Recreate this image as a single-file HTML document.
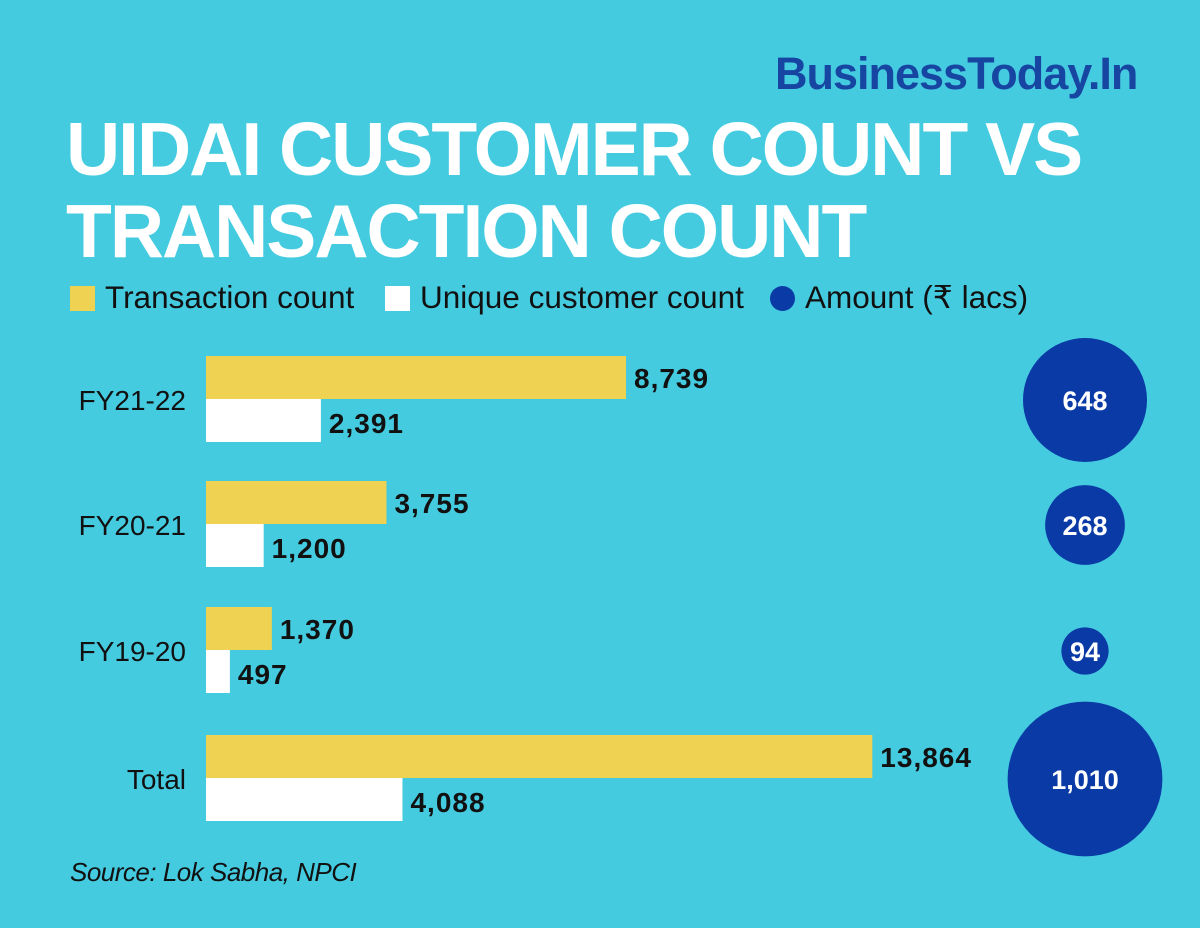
<!DOCTYPE html>
<html><head><meta charset="utf-8"><style>
body{margin:0;width:1200px;height:928px;background:#45CBE0;font-family:"Liberation Sans",sans-serif;overflow:hidden;position:relative}
.t{position:absolute;white-space:nowrap}
</style></head><body>
<div class="t" style="left:775px;top:48px;font-size:45px;font-weight:bold;color:#1746A2;letter-spacing:-1px">BusinessToday.In</div>
<div class="t" style="left:66px;top:108px;font-size:75px;line-height:82px;font-weight:bold;color:#fff;letter-spacing:-2px">UIDAI CUSTOMER COUNT VS<br>TRANSACTION COUNT</div>
<div>
<div class="t" style="left:70px;top:286px;width:25px;height:25px;background:#EFD252"></div>
<div class="t" style="left:105px;top:279px;font-size:31.5px;color:#111">Transaction count</div>
<div class="t" style="left:385px;top:286px;width:25px;height:25px;background:#fff"></div>
<div class="t" style="left:420px;top:279px;font-size:31.5px;color:#111">Unique customer count</div>
<div class="t" style="left:770px;top:286px;width:25px;height:25px;border-radius:50%;background:#0A3AA5"></div>
<div class="t" style="left:805px;top:279px;font-size:31.5px;color:#111">Amount (₹ lacs)</div>
</div>
<svg id="chart" width="1200" height="928" style="position:absolute;left:0;top:0"></svg>
<div class="t" style="left:70px;top:857px;font-size:26px;font-style:italic;color:#111;letter-spacing:-0.5px">Source: Lok Sabha, NPCI</div>
<script>
const categories=["FY21-22","FY20-21","FY19-20","Total"];
const transactions=[8739,3755,1370,13864];
const customers=[2391,1200,497,4088];
const amounts=[648,268,94,1010];
const groupTops=[356,481,607,735];
const svg=document.getElementById('chart');
const NS='http://www.w3.org/2000/svg';
const x0=206,scale=(626-206)/8739;
const xw=v=>v*scale;
const rK=62/Math.sqrt(648);
const rad=v=>rK*Math.sqrt(v);
const fmt=v=>v.toLocaleString('en-US');
function mk(tag,attrs,txt){const e=document.createElementNS(NS,tag);for(const k in attrs)e.setAttribute(k,attrs[k]);if(txt!==undefined)e.textContent=txt;svg.appendChild(e);return e;}
categories.forEach((c,i)=>{
 const y=groupTops[i];
 let l=mk('text',{x:186,y:y+54,'text-anchor':'end','font-size':28,fill:'#111','font-family':'Liberation Sans'},c);
 
 
 let b1=mk('rect',{x:x0,y:y,width:xw(transactions[i]),height:43,fill:'#EFD252'});
 
 
 let t1=mk('text',{x:x0+xw(transactions[i])+8,y:y+32,'font-size':28,'font-weight':'bold','letter-spacing':1,fill:'#111','font-family':'Liberation Sans'},fmt(transactions[i]));
 
 
 let b2=mk('rect',{x:x0,y:y+43,width:xw(customers[i]),height:43,fill:'#fff'});
 
 
 let t2=mk('text',{x:x0+xw(customers[i])+8,y:y+77,'font-size':28,'font-weight':'bold','letter-spacing':1,fill:'#111','font-family':'Liberation Sans'},fmt(customers[i]));
 
 
 let ci=mk('circle',{cx:1085,cy:y+44,r:rad(amounts[i]),fill:'#0A3AA5'});
 
 
 let ct=mk('text',{x:1085,y:y+54,'text-anchor':'middle','font-size':27,'font-weight':'bold',fill:'#fff','font-family':'Liberation Sans'},fmt(amounts[i]));
 
 
});
</script>
</body></html>
